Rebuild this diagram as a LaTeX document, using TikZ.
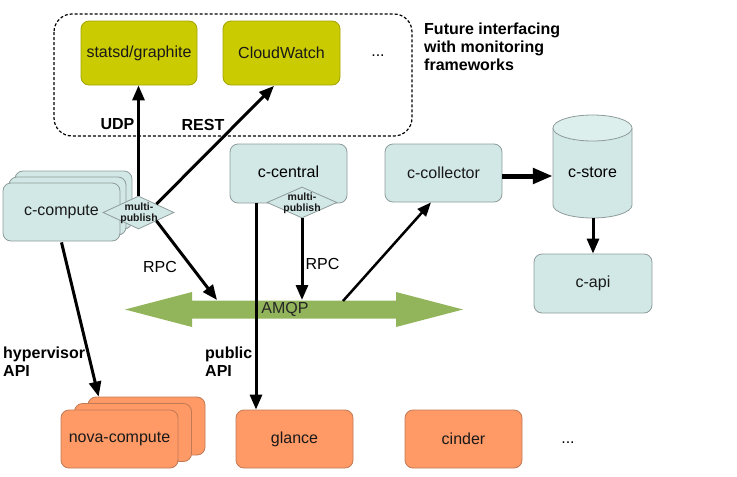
\documentclass[tikz,border=0pt]{standalone}
\usepackage{fontspec}
\setmainfont{Liberation Sans}
\usetikzlibrary{shapes.geometric,arrows.meta,calc}
\definecolor{cteal}{HTML}{D2E8E6}
\definecolor{ctealtop}{HTML}{DCEFEC}
\definecolor{cborder}{HTML}{8E9C9B}
\definecolor{cyel}{HTML}{CACB00}
\definecolor{cyelb}{HTML}{A3A400}
\definecolor{corange}{HTML}{FF9966}
\definecolor{coranb}{HTML}{C07A55}
\definecolor{cgreen}{HTML}{92B55B}
\newcommand{\fsn}{\fontsize{16pt}{18pt}\selectfont}
\newcommand{\fsb}{\fontsize{16pt}{18pt}\selectfont\bfseries}
\newcommand{\fss}{\fontsize{10.5pt}{11pt}\selectfont\bfseries}
\tikzset{
  box/.style={rounded corners=8pt, minimum width=117pt, minimum height=58pt, inner sep=0pt, font=\fsn, text=black!90},
  tealbox/.style={box, draw=cborder, fill=cteal, line width=0.8pt},
  yelbox/.style={box, draw=cyelb, fill=cyel, line width=0.8pt, minimum width=116pt, minimum height=64pt},
  orbox/.style={box, draw=coranb, fill=corange, line width=0.8pt},
  mpub/.style={diamond, draw=cborder, fill=cteal, line width=0.8pt, inner sep=0pt, aspect=2.15},
  mptext/.style={font=\fss, align=center, text=black!90, inner sep=0pt},
  arr/.style={line width=3pt, -{Triangle[length=15pt,width=12pt]}},
  thinarr/.style={line width=2.5pt, -{Triangle[length=14pt,width=11pt]}},
  lbl/.style={font=\fsb, inner sep=0pt, align=left},
  nlbl/.style={font=\fsn, inner sep=0pt},
}
\begin{document}
\begin{tikzpicture}[x=1pt, y=-1pt]
\useasboundingbox (0,0) rectangle (737,477);

% dashed frame
\draw[densely dashed, line width=1.2pt, rounded corners=18pt] (54,14) rectangle (412,136);
\node[yelbox] (statsd) at (139,53) {statsd/graphite};
\node[yelbox, minimum width=117pt] (cloudwatch) at (281.5,53) {CloudWatch};
\node[nlbl, anchor=base] (dots1) at (378,56) {...};
\node[lbl, anchor=west] (future) at (424,47) {Future interfacing\\with monitoring\\frameworks};

% c-compute stack
\node[tealbox] (ccback2) at (73.5,200) {};
\node[tealbox] (ccback1) at (67.5,206) {};
\node[tealbox] (ccompute) at (61.5,212) {c-compute};
\node[mpub, minimum width=71pt, minimum height=33pt] (mp1) at (138.5,212.5) {};
\node[mptext] (mp1t) at (139,213) {multi-\\publish};

% c-central
\node[tealbox, minimum height=59pt] (ccentral) at (288.5,173.5) {};
\node[nlbl] (ccentralt) at (288.5,172) {c-central};
\node[mpub, minimum width=70pt, minimum height=31pt] (mp2) at (302,202.5) {};
\node[mptext] (mp2t) at (302,203) {multi-\\publish};

% c-collector
\node[tealbox] (ccollector) at (443.5,173) {c-collector};

% c-store cylinder
\node[minimum width=79pt, minimum height=103pt, inner sep=0pt] (cstore) at (592.5,166.5) {};
\fill[cteal] (553,128) -- (553,205) arc[start angle=180, end angle=360, x radius=39.5, y radius=-13] -- (632,128) -- cycle;
\draw[cborder, line width=0.8pt] (553,128) -- (553,205) arc[start angle=180, end angle=360, x radius=39.5, y radius=-13] -- (632,128);
\draw[cborder, line width=0.8pt, fill=ctealtop] (592.5,128) ellipse[x radius=39.5, y radius=13];
\node[nlbl] (cstoret) at (592.5,172) {c-store};

% c-api
\node[tealbox, minimum width=118pt, minimum height=59pt] (capi) at (593,283.5) {c-api};

% AMQP bus
\fill[cgreen] (125,309.5) -- (192,292) -- (192,300.5) -- (396,300.5) -- (396,292) -- (463,309.5)
  -- (396,327) -- (396,318.5) -- (192,318.5) -- (192,327) -- cycle;
\node[nlbl, text=black!85] (amqp) at (285,309.5) {AMQP};
\coordinate (amqpA) at (217,300);
\coordinate (amqpB) at (302,300);
\coordinate (amqpC) at (343,301);

% bottom row
\node[orbox] (novaback2) at (146.5,426) {};
\node[orbox] (novaback1) at (133,432.5) {};
\node[orbox] (nova) at (119.5,439) {nova-compute};
\node[orbox] (glance) at (294.5,439) {glance};
\node[orbox] (cinder) at (463.5,439) {cinder};
\node[nlbl, anchor=base] (dots2) at (568,443) {...};

% connectors
\draw[arr] (mp1.north) -- (mp1.north |- statsd.south);
\draw[arr] (mp1.north east) -- ($(cloudwatch.south)+(-7.5,0.5)$);
\draw[arr] (mp1.south east) -- (amqpA);
\draw[arr] (mp2.south) -- (amqpB);
\draw[arr] ($(ccentral.south)+(-32.5,0)$) -- ($(glance.north)+(-38.5,0)$);
\draw[thinarr] (amqpC) -- ($(ccollector.south)+(-12.5,0)$);
\draw[line width=5pt, -{Triangle[length=20pt,width=15pt]}] ($(ccollector.east)+(0,3)$) -- ($(cstore.west)+(0,9.5)$);
\draw[arr] (cstore.south -| capi.north) -- (capi.north);
\draw[arr] ($(ccompute.south)+(0,1)$) -- ($(novaback2.north west)+(11,0)$);

% labels
\node[lbl] (udp) at (117.5,124.5) {UDP};
\node[lbl] (rest) at (203,124.5) {REST};
\node[nlbl] (rpc1) at (160,267) {RPC};
\node[nlbl] (rpc2) at (322.5,264) {RPC};
\node[lbl, anchor=west] (hyp) at (3,362) {hypervisor\\API};
\node[lbl, anchor=west] (pub) at (205,362) {public\\API};
\end{tikzpicture}
\end{document}
